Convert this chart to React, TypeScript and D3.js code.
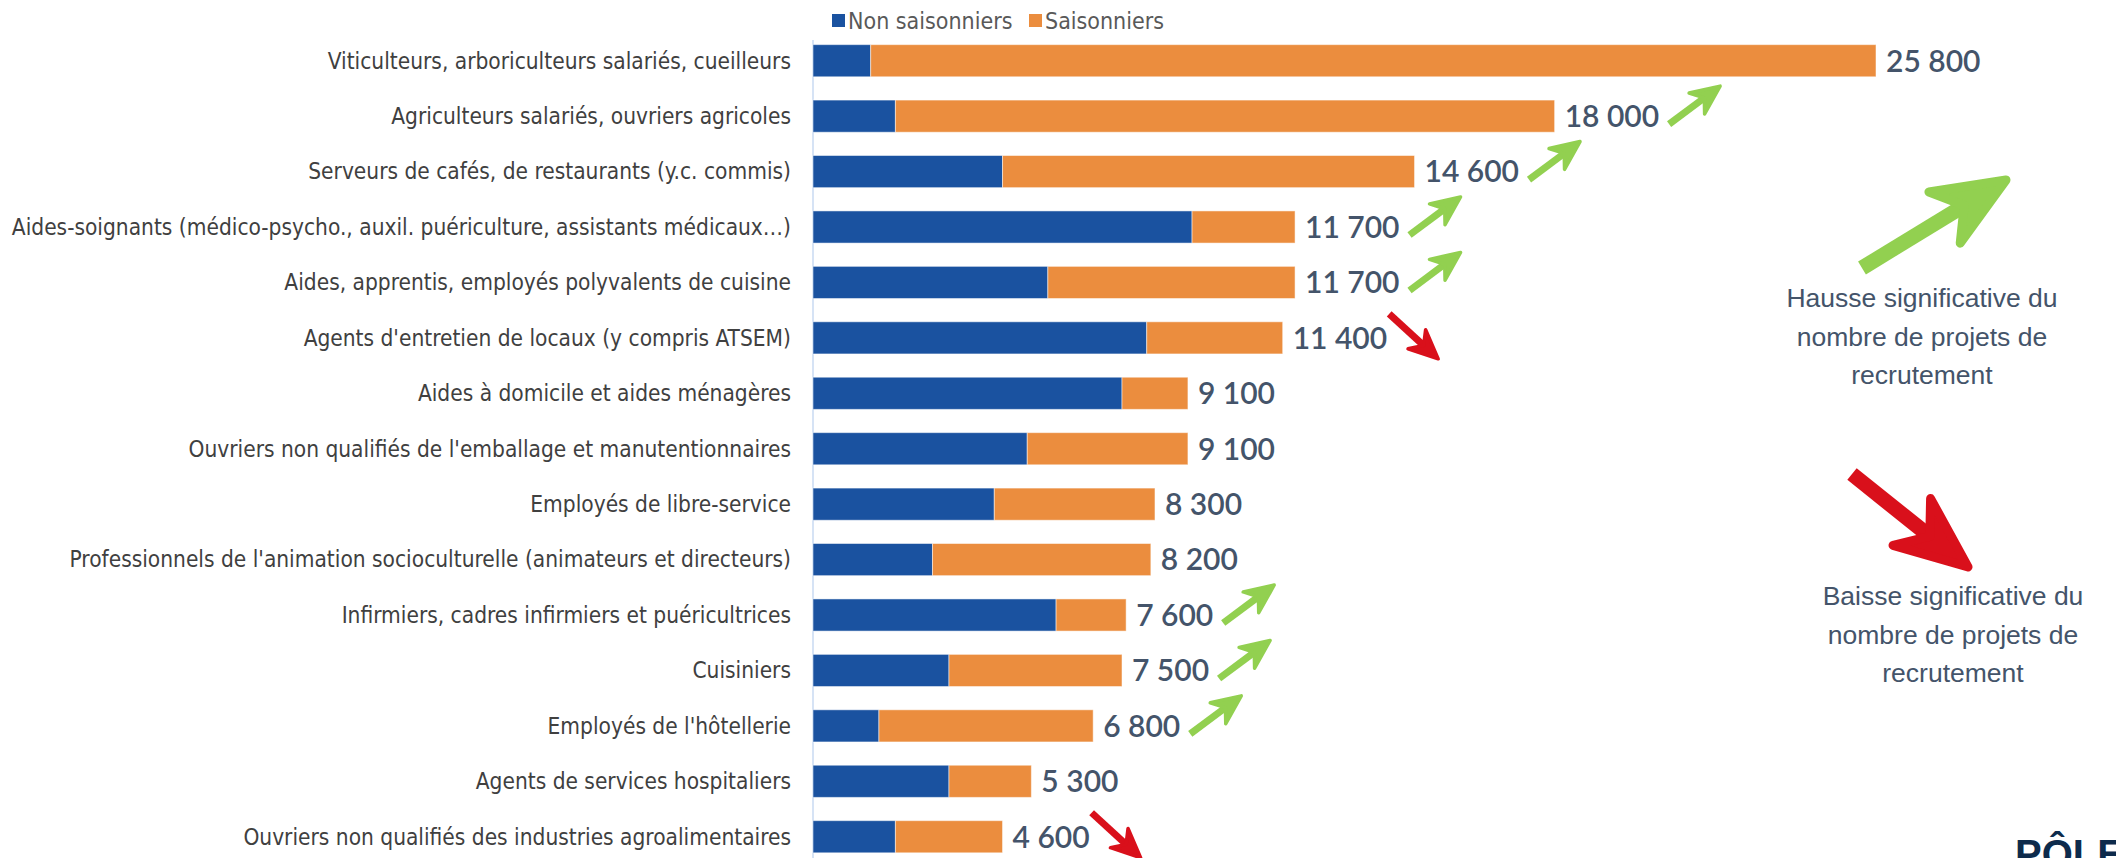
import React, { useEffect, useRef } from 'react';
import * as d3 from 'd3';

const categories = [
  'Viticulteurs, arboriculteurs salariés, cueilleurs',
  'Agriculteurs salariés, ouvriers agricoles',
  'Serveurs de cafés, de restaurants (y.c. commis)',
  'Aides-soignants (médico-psycho., auxil. puériculture, assistants médicaux…)',
  'Aides, apprentis, employés polyvalents de cuisine',
  "Agents d'entretien de locaux (y compris ATSEM)",
  'Aides à domicile et aides ménagères',
  "Ouvriers non qualifiés de l'emballage et manutentionnaires",
  'Employés de libre-service',
  "Professionnels de l'animation socioculturelle (animateurs et directeurs)",
  'Infirmiers, cadres infirmiers et puéricultrices',
  'Cuisiniers',
  "Employés de l'hôtellerie",
  'Agents de services hospitaliers',
  'Ouvriers non qualifiés des industries agroalimentaires',
];
const nonSaisonniers = [1400, 2000, 4600, 9200, 5700, 8100, 7500, 5200, 4400, 2900, 5900, 3300, 1600, 3300, 2000];
const saisonniers = [24400, 16000, 10000, 2500, 6000, 3300, 1600, 3900, 3900, 5300, 1700, 4200, 5200, 2000, 2600];
const totals = [25800, 18000, 14600, 11700, 11700, 11400, 9100, 9100, 8300, 8200, 7600, 7500, 6800, 5300, 4600];
// tendance du nombre de projets : 'up', 'down' ou ''
const trends = ['', 'up', 'up', 'up', 'up', 'down', '', '', '', '', 'up', 'up', 'up', '', 'down'];
const legendLabels = ['Non saisonniers', 'Saisonniers'];
const hausseLines = ['Hausse significative du', 'nombre de projets de', 'recrutement'];
const baisseLines = ['Baisse significative du', 'nombre de projets de', 'recrutement'];

const WIDTH = 2116;
const HEIGHT = 858;
const BLUE = '#1a52a0';
const ORANGE = '#eb8d3e';
const GREEN = '#92d050';
const RED = '#d9101b';
const SLATE = '#44546a';
const LABEL_FONT = "'Liberation Sans Narrow', 'DejaVu Sans Condensed', sans-serif";

const frFormat = d3.formatLocale({ decimal: ',', thousands: ' ', grouping: [3], currency: ['', ' €'] }).format(',');

function arrowPaths(tx: number, ty: number, px: number, py: number, w: number, hl: number, hw: number) {
  const len = Math.hypot(px - tx, py - ty);
  const ux = (px - tx) / len;
  const uy = (py - ty) / len;
  const nx = -uy;
  const ny = ux;
  const bx = px - ux * hl * 0.7;
  const by = py - uy * hl * 0.7;
  const shaft = d3.path();
  shaft.moveTo(tx + nx * w / 2, ty + ny * w / 2);
  shaft.lineTo(bx + nx * w / 2, by + ny * w / 2);
  shaft.lineTo(bx - nx * w / 2, by - ny * w / 2);
  shaft.lineTo(tx - nx * w / 2, ty - ny * w / 2);
  shaft.closePath();
  const head = d3.path();
  head.moveTo(px, py);
  head.lineTo(px - ux * hl + nx * hw / 2, py - uy * hl + ny * hw / 2);
  head.lineTo(px - ux * hl * 0.68, py - uy * hl * 0.68);
  head.lineTo(px - ux * hl - nx * hw / 2, py - uy * hl - ny * hw / 2);
  head.closePath();
  return [shaft.toString(), head.toString()];
}

function drawArrow(g: any, tx: number, ty: number, px: number, py: number, color: string, big: boolean) {
  const [shaft, head] = big
    ? arrowPaths(tx, ty, px, py, 15, 72, 60)
    : arrowPaths(tx, ty, px, py, 7, 29, 26);
  g.append('path').attr('d', shaft).attr('fill', color);
  g.append('path').attr('d', head).attr('fill', color)
    .attr('stroke', color).attr('stroke-width', big ? 9 : 3.5).attr('stroke-linejoin', 'round');
}

export default function App() {
  const svgRef = useRef<SVGSVGElement>(null);

  useEffect(() => {
    document.body.style.margin = '0';
    if (!svgRef.current) return;
    const svg = d3.select(svgRef.current);
    svg.selectAll('*').remove();

    const x = d3.scaleLinear().domain([0, 25800]).range([813, 1876]);
    const y = d3.scaleBand<string>()
      .domain(categories)
      .range([33, 33 + 15 * 55.43])
      .paddingInner(0.42)
      .paddingOuter(0.21);

    // legend
    const legend = svg.append('g');
    const legendX = [832, 1029];
    [BLUE, ORANGE].forEach((c, i) => {
      legend.append('rect').attr('x', legendX[i]).attr('y', 14).attr('width', 13).attr('height', 13).attr('fill', c);
      legend.append('text').attr('x', legendX[i] + 16).attr('y', 29)
        .attr('font-family', LABEL_FONT).attr('font-size', 23).attr('fill', '#595959')
        .text(legendLabels[i]);
    });

    // axis line
    svg.append('line')
      .attr('x1', x(0)).attr('x2', x(0))
      .attr('y1', 40).attr('y2', HEIGHT)
      .attr('stroke', '#d6e3f5').attr('stroke-width', 2);

    const rows = svg.append('g');
    categories.forEach((cat, i) => {
      const top = y(cat)!;
      const bh = y.bandwidth();
      const cy = top + bh / 2;
      rows.append('rect')
        .attr('x', x(0)).attr('y', top)
        .attr('width', x(nonSaisonniers[i]) - x(0)).attr('height', bh)
        .attr('fill', BLUE).attr('stroke', '#ffffff').attr('stroke-opacity', 0.5).attr('stroke-width', 1);
      rows.append('rect')
        .attr('x', x(nonSaisonniers[i])).attr('y', top)
        .attr('width', x(nonSaisonniers[i] + saisonniers[i]) - x(nonSaisonniers[i])).attr('height', bh)
        .attr('fill', ORANGE).attr('stroke', '#ffffff').attr('stroke-opacity', 0.5).attr('stroke-width', 1);

      rows.append('text')
        .attr('x', 791).attr('y', cy)
        .attr('dy', '0.35em')
        .attr('text-anchor', 'end')
        .attr('font-family', LABEL_FONT)
        .attr('font-size', 22.5)
        .attr('fill', '#404040')
        .text(cat);

      const lx = x(nonSaisonniers[i] + saisonniers[i]) + 10;
      const valueText = rows.append('text')
        .attr('x', lx).attr('y', cy)
        .attr('dy', '0.36em')
        .attr('font-family', 'Lato, sans-serif')
        .attr('font-weight', 600)
        .attr('font-size', 30)
        .attr('fill', SLATE)
        .text(frFormat(totals[i]));

      const endX = lx + (valueText.node() as SVGTextElement).getComputedTextLength();
      if (trends[i] === 'up') {
        drawArrow(rows, endX + 10, cy + 8, endX + 61, cy - 30, GREEN, false);
      } else if (trends[i] === 'down') {
        drawArrow(rows, endX + 2, cy - 24, endX + 51, cy + 21, RED, false);
      }
    });

    // annotations
    const notes = svg.append('g');
    drawArrow(notes, 1862, 268, 2006, 180, GREEN, true);
    drawArrow(notes, 1852, 474, 1968, 567, RED, true);
    hausseLines.forEach((t, i) => {
      notes.append('text').attr('x', 1922).attr('y', 307 + i * 38.5)
        .attr('text-anchor', 'middle').attr('font-family', 'Liberation Sans, sans-serif')
        .attr('font-size', 26.5).attr('fill', SLATE).text(t);
    });
    baisseLines.forEach((t, i) => {
      notes.append('text').attr('x', 1953).attr('y', 605 + i * 38.5)
        .attr('text-anchor', 'middle').attr('font-family', 'Liberation Sans, sans-serif')
        .attr('font-size', 26.5).attr('fill', SLATE).text(t);
    });
    notes.append('text').attr('x', 2015).attr('y', 868)
      .attr('font-family', 'Liberation Sans, sans-serif').attr('font-weight', 700)
      .attr('font-size', 40).attr('fill', '#0d2b4c').text('PÔLE');
  }, []);

  return <svg ref={svgRef} width={WIDTH} height={HEIGHT} style={{ display: 'block', background: '#fff' }} />;
}
